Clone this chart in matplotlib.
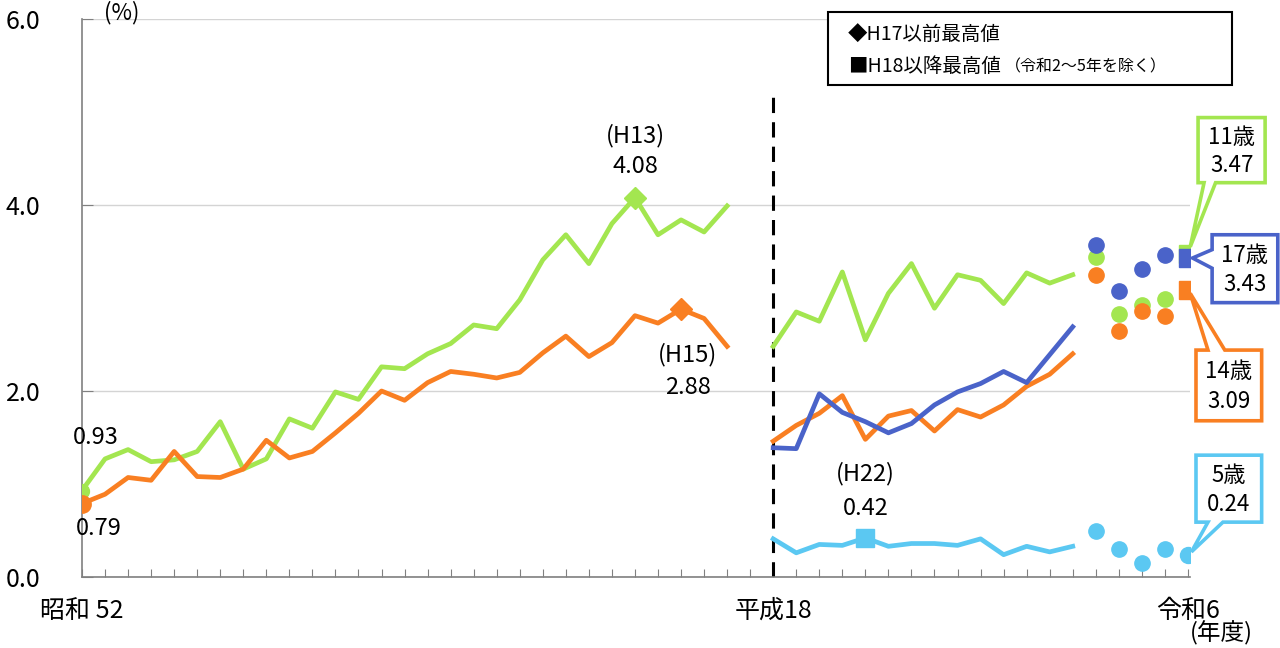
import matplotlib
matplotlib.use('Agg')
import matplotlib.pyplot as plt
from matplotlib.patches import Polygon, Rectangle
from matplotlib.transforms import blended_transform_factory

plt.rcParams['font.family'] = ['Noto Sans CJK JP', 'DejaVu Sans']

# data (%)
years_early = list(range(1977, 2006))          # 昭和52 .. 平成17
age11_early = [0.93, 1.27, 1.37, 1.24, 1.26, 1.35, 1.67, 1.16, 1.27, 1.70,
               1.60, 1.99, 1.91, 2.26, 2.24, 2.40, 2.51, 2.71, 2.67, 2.98,
               3.41, 3.68, 3.37, 3.80, 4.08, 3.68, 3.84, 3.71, 3.99]
age14_early = [0.79, 0.89, 1.07, 1.04, 1.35, 1.08, 1.07, 1.16, 1.47, 1.28,
               1.35, 1.55, 1.76, 2.00, 1.90, 2.09, 2.21, 2.18, 2.14, 2.20,
               2.41, 2.59, 2.37, 2.52, 2.81, 2.73, 2.88, 2.78, 2.48]

years_late = list(range(2006, 2020))           # 平成18 .. 令和元
age5_late = [0.41, 0.26, 0.35, 0.34, 0.42, 0.33, 0.36, 0.36, 0.34, 0.41,
             0.24, 0.33, 0.27, 0.33]
age11_late = [2.48, 2.85, 2.75, 3.28, 2.55, 3.05, 3.37, 2.89, 3.25, 3.19,
              2.94, 3.27, 3.16, 3.25]
age14_late = [1.46, 1.63, 1.76, 1.95, 1.48, 1.73, 1.79, 1.57, 1.80, 1.72,
              1.85, 2.05, 2.18, 2.40]
age17_late = [1.39, 1.38, 1.97, 1.77, 1.67, 1.55, 1.65, 1.85, 1.99, 2.08,
              2.21, 2.09, 2.39, 2.69]

years_covid = [2020, 2021, 2022, 2023]         # 令和2 .. 令和5
age5_covid = [0.50, 0.30, 0.15, 0.30]
age11_covid = [3.44, 2.83, 2.92, 2.99]
age14_covid = [3.25, 2.64, 2.86, 2.81]
age17_covid = [3.57, 3.07, 3.31, 3.46]

year_last = 2024                                # 令和6
age5_last, age11_last, age14_last, age17_last = 0.24, 3.47, 3.09, 3.43

c11 = '#A3E650'
c14 = '#F97F22'
c17 = '#4A63C9'
c5 = '#5BC8F2'


def pos(y):
    # one empty slot is left between H17 and H18 for the dashed divider
    return y - 1977 if y <= 2005 else y - 1976


def xs(years):
    return [pos(y) for y in years]


fig = plt.figure(figsize=(12.8, 6.48), dpi=100)
ax = fig.add_axes([82 / 1280, 71 / 648, 1108 / 1280, 558 / 648])

ax.set_xlim(0, pos(year_last) + 0.09)
ax.set_ylim(0, 6)
for s in ['top', 'right']:
    ax.spines[s].set_visible(False)
for s in ['left', 'bottom']:
    ax.spines[s].set_color('#808080')
    ax.spines[s].set_linewidth(1.2)

ax.set_yticks([0, 2, 4, 6])
ax.set_yticklabels(['0.0', '2.0', '4.0', '6.0'], fontsize=18)
ax.tick_params(axis='y', direction='in', length=8, color='#808080', pad=30)
ax.set_xticks(range(0, pos(year_last) + 1))
ax.set_xticklabels([])
ax.tick_params(axis='x', direction='in', length=6, color='#808080')
ax.grid(axis='y', color='#d4d4d4', lw=1)
ax.set_axisbelow(True)

lw = 3.4
ms = 11
# 11歳
ax.plot(xs(years_early), age11_early, color=c11, lw=lw, zorder=3)
ax.plot(xs(years_late), age11_late, color=c11, lw=lw, zorder=3)
ax.plot(xs(years_covid), age11_covid, 'o', color=c11, ms=ms, zorder=3)
# 14歳
ax.plot(xs(years_early), age14_early, color=c14, lw=lw, zorder=3)
ax.plot(xs(years_late), age14_late, color=c14, lw=lw, zorder=3)
ax.plot(xs(years_covid), age14_covid, 'o', color=c14, ms=ms, zorder=3)
# 17歳
ax.plot(xs(years_late), age17_late, color=c17, lw=lw, zorder=3)
ax.plot(xs(years_covid), age17_covid, 'o', color=c17, ms=ms, zorder=3)
# 5歳
ax.plot(xs(years_late), age5_late, color=c5, lw=lw, zorder=3)
ax.plot(xs(years_covid), age5_covid, 'o', color=c5, ms=ms, zorder=3)

# first-year points
ax.plot(pos(years_early[0]), age11_early[0], 'o', color=c11, ms=10, zorder=4)
ax.plot(pos(years_early[0]), age14_early[0], 'o', color=c14, ms=12.5, zorder=4)

# highest values
i11 = age11_early.index(max(age11_early))
i14 = age14_early.index(max(age14_early))
i5 = age5_late.index(max(age5_late))
ax.plot(pos(years_early[i11]), age11_early[i11], 'D', color=c11, ms=11.5, zorder=4)
ax.plot(pos(years_early[i14]), age14_early[i14], 'D', color=c14, ms=11.5, zorder=4)
ax.plot(pos(years_late[i5]), age5_late[i5], 's', color=c5, ms=13.5, zorder=4)

# 令和6
xl = pos(year_last)
ax.plot(xl, age11_last, 's', color=c11, ms=13, zorder=4)
ax.plot(xl, age14_last, 's', color=c14, ms=12.5, zorder=4)
ax.plot(xl, age17_last, 's', color=c17, ms=12.5, zorder=4)
ax.plot(xl, age5_last, 'o', color=c5, ms=11.5, zorder=4)

# divider H17 / H18
ax.plot([pos(2006), pos(2006)], [0, 5.24], color='black', lw=2.2,
        ls=(0, (5, 3)), zorder=2)

# value labels
fs = 17
ax.text(pos(years_early[i11]), 4.75, '(H13)', ha='center', va='center', fontsize=fs)
ax.text(pos(years_early[i11]), 4.41, '4.08', ha='center', va='center', fontsize=fs)
ax.text(pos(years_early[i14]) + 0.3, 2.39, '(H15)', ha='center', va='center', fontsize=fs)
ax.text(pos(years_early[i14]) + 0.3, 2.04, '2.88', ha='center', va='center', fontsize=fs)
ax.text(0.6, 1.50, '0.93', ha='center', va='center', fontsize=fs)
ax.text(0.73, 0.52, '0.79', ha='center', va='center', fontsize=fs)
ax.text(pos(years_late[i5]), 1.11, '(H22)', ha='center', va='center', fontsize=fs)
ax.text(pos(years_late[i5]), 0.74, '0.42', ha='center', va='center', fontsize=fs)

# x labels
tr = blended_transform_factory(ax.transData, ax.transAxes)
ax.text(0, -0.061, '昭和 52', transform=tr, ha='center', va='center', fontsize=18)
ax.text(pos(2006), -0.061, '平成18', transform=tr, ha='center', va='center', fontsize=18)
ax.text(xl, -0.061, '令和6', transform=tr, ha='center', va='center', fontsize=18,
        clip_on=False)
ax.text(xl + 1.45, -0.1, '(年度)', transform=tr, ha='center', va='center', fontsize=17,
        clip_on=False)
fig.text(122 / 1280, 1 - 13 / 648, '(%)', ha='center', va='center', fontsize=16)


def callout(box, side, base, tip, color, lines):
    x0, x1, yt, yb = box
    if side == 'bottom':
        pts = [(x0, yt), (x1, yt), (x1, yb), (base[1], yb), tip, (base[0], yb), (x0, yb)]
    elif side == 'top':
        pts = [(x0, yt), (base[0], yt), tip, (base[1], yt), (x1, yt), (x1, yb), (x0, yb)]
    else:
        pts = [(x0, yt), (x1, yt), (x1, yb), (x0, yb), (x0, base[0]), tip, (x0, base[1])]
    ax.add_patch(Polygon(pts, closed=True, fc='white', ec=color, lw=2.6,
                         clip_on=False, zorder=6))
    xc = (x0 + x1) / 2
    h = yt - yb
    ax.text(xc, yt - h * 0.3, lines[0], ha='center', va='center', fontsize=16,
            zorder=7, clip_on=False)
    ax.text(xc, yb + h * 0.27, lines[1], ha='center', va='center', fontsize=16,
            zorder=7, clip_on=False)


callout((48.44, 51.35, 4.94, 4.24), 'bottom', (48.7, 49.2), (xl + 0.1, age11_last + 0.08),
        c11, ['11歳', f'{age11_last:.2f}'])
callout((49.05, 51.9, 3.68, 2.95), 'left', (3.32, 3.52), (xl + 0.2, age17_last),
        c17, ['17歳', f'{age17_last:.2f}'])
callout((48.35, 51.2, 2.44, 1.68), 'top', (48.87, 49.6), (xl + 0.1, age14_last - 0.04),
        c14, ['14歳', f'{age14_last:.2f}'])
callout((48.35, 51.2, 1.31, 0.59), 'bottom', (48.87, 49.52), (xl + 0.15, age5_last + 0.03),
        c5, ['5歳', f'{age5_last:.2f}'])

# legend box
fig.add_artist(Rectangle((828 / 1280, 1 - 85 / 648), 404 / 1280, 73 / 648,
                         transform=fig.transFigure, fc='white', ec='black', lw=1.5,
                         zorder=8))
fig.text(848 / 1280, 1 - 34 / 648, '◆H17以前最高値', ha='left', va='center',
         fontsize=14, zorder=9)
t2 = fig.text(848 / 1280, 1 - 67 / 648, '■H18以降最高値', ha='left', va='center',
              fontsize=14, zorder=9)
fig.canvas.draw()
bb = t2.get_window_extent()
fig.text(bb.x1 / 1280 + 0.003, 1 - 67 / 648, '（令和2～5年を除く）', ha='left',
         va='center', fontsize=11.5, zorder=9)

fig.savefig('out.png', dpi=100)
